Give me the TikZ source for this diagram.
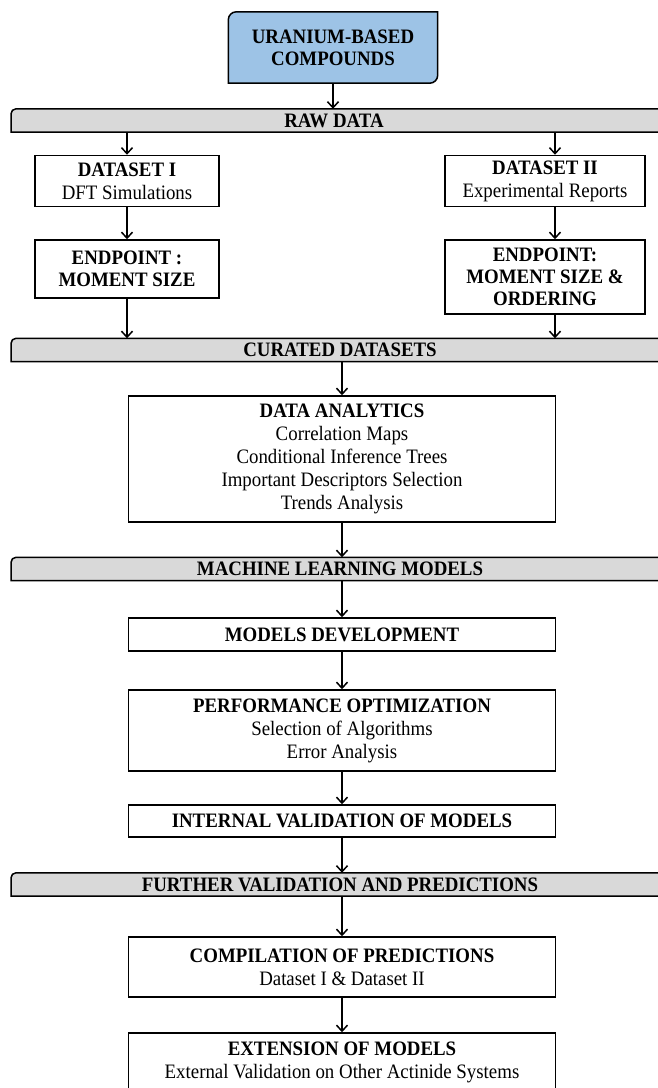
\documentclass[tikz,border=0pt]{standalone}
\usepackage{fontspec}
\setmainfont[FakeStretch=0.92]{Liberation Serif}
\usetikzlibrary{positioning,calc,backgrounds,arrows.meta}

\definecolor{ublue}{HTML}{9DC3E6}
\definecolor{bandgray}{HTML}{D9D9D9}

\tikzset{
  box/.style={draw,line width=1.5pt,align=center,inner sep=2pt,
    font=\fontsize{20.5}{23}\selectfont},
  band/.style={minimum height=23pt,inner sep=0pt,font=\fontsize{20.5}{23}\selectfont\bfseries},
  bandline/.style={draw,fill=bandgray,line width=1.5pt},
  arr/.style={line width=1.5pt,-{Straight Barb[length=6pt,width=11pt,line width=1.5pt]}}
}

\begin{document}
\begin{tikzpicture}[x=1pt,y=-1pt]
  \useasboundingbox (0,0) rectangle (657,1088);
  \coordinate (L) at (11,0);
  \coordinate (R) at (700,0);

  % start
  \node[align=center,font=\fontsize{20.5}{22}\selectfont\bfseries,minimum width=209pt,minimum height=71pt]
    (top) at (333,47.5) {URANIUM-BASED\\COMPOUNDS};
  \begin{scope}[on background layer]
    \filldraw[fill=ublue,line width=1.5pt] (top.north east) -- ([yshift=8pt]top.south east)
      arc[start angle=0,end angle=-90,radius=8pt] -- (top.south west)
      -- ([yshift=-8pt]top.north west) arc[start angle=180,end angle=90,radius=8pt] -- cycle;
  \end{scope}

  % the grey bands
  \node[band] (raw) at (334,120.5) {RAW DATA};
  \node[band] (cur) at (340,350) {CURATED DATASETS};
  \node[band] (ml)  at (340,569) {MACHINE LEARNING MODELS};
  \node[band] (fur) at (340,884.5) {FURTHER VALIDATION AND PREDICTIONS};
  \begin{scope}[on background layer]
    \foreach \b in {raw,cur,ml,fur}
      \draw[bandline] (\b.south -| L) -- ($(\b.north -| L)+(0,5)$)
        arc[start angle=180,end angle=90,radius=5pt] -- (\b.north -| R) -- (\b.south -| R) -- cycle;
  \end{scope}

  % two datasets
  \node[box,minimum width=184pt,minimum height=51pt] (ds1) at (127,181) {\textbf{DATASET I}\\DFT Simulations};
  \node[box,minimum width=200pt,minimum height=51pt] (ds2) at (545,181) {\textbf{DATASET II}\\Experimental Reports};
  \node[box,minimum width=184pt,minimum height=58pt,font=\fontsize{20.5}{22}\selectfont\bfseries]
    (ep1) at (127,269) {ENDPOINT :\\MOMENT SIZE};
  \node[box,minimum width=200pt,minimum height=74pt,font=\fontsize{20.5}{22}\selectfont\bfseries]
    (ep2) at (545,277) {ENDPOINT:\\MOMENT SIZE \&\\ORDERING};

  % main column
  \node[box,minimum width=427pt,minimum height=126pt] (da) at (342,459)
    {\textbf{DATA ANALYTICS}\\Correlation Maps\\Conditional Inference Trees\\Important Descriptors Selection\\Trends Analysis};
  \node[box,minimum width=427pt,minimum height=33pt] (md) at (342,634.5) {\textbf{MODELS DEVELOPMENT}};
  \node[box,minimum width=427pt,minimum height=81pt] (po) at (342,730.5)
    {\textbf{PERFORMANCE OPTIMIZATION}\\Selection of Algorithms\\Error Analysis};
  \node[box,minimum width=427pt,minimum height=32pt] (iv) at (342,821) {\textbf{INTERNAL VALIDATION OF MODELS}};
  \node[box,minimum width=427pt,minimum height=60pt] (cp) at (342,967)
    {\textbf{COMPILATION OF PREDICTIONS}\\Dataset I \& Dataset II};
  \node[box,minimum width=427pt,minimum height=58pt] (ex) at (342,1062)
    {\textbf{EXTENSION OF MODELS}\\External Validation on Other Actinide Systems};

  % arrows
  \draw[arr] (top) -- (top.south |- raw.north);
  \draw[arr] (ds1.north |- raw.south) -- (ds1);
  \draw[arr] ([xshift=10pt]ds2.north |- raw.south) -- ([xshift=10pt]ds2.north);
  \draw[arr] (ds1) -- (ep1);
  \draw[arr] ([xshift=10pt]ds2.south) -- ([xshift=10pt]ds2.south |- ep2.north);
  \draw[arr] (ep1) -- (ep1.south |- cur.north);
  \draw[arr] ([xshift=10pt]ep2.south) -- ([xshift=10pt]ep2.south |- cur.north);
  \draw[arr] (da.north |- cur.south) -- (da);
  \draw[arr] (da) -- (da.south |- ml.north);
  \draw[arr] (md.north |- ml.south) -- (md);
  \foreach \a/\b in {md/po,po/iv,cp/ex}
    \draw[arr] (\a) -- (\b);
  \draw[arr] (iv) -- (iv.south |- fur.north);
  \draw[arr] (cp.north |- fur.south) -- (cp);
\end{tikzpicture}
\end{document}
